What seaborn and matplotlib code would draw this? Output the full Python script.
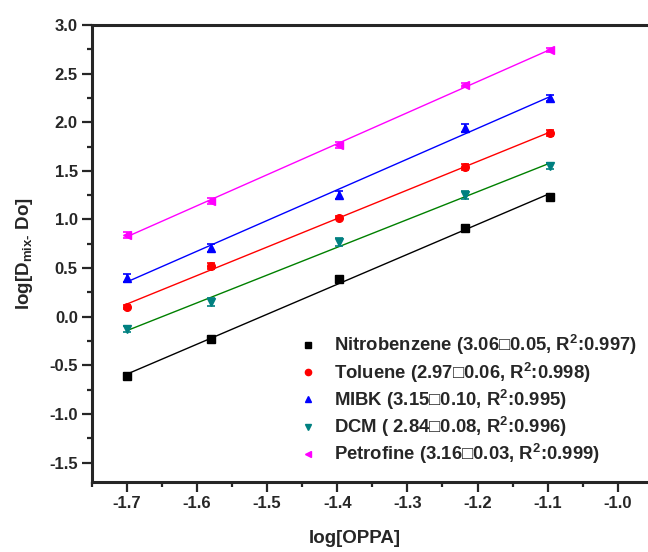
import numpy as np
import pandas as pd
import matplotlib
matplotlib.use("Agg")
import matplotlib.pyplot as plt
from matplotlib.lines import Line2D
from matplotlib.ticker import MultipleLocator
import seaborn as sns

# ---- data ----
log_oppa = [-1.699, -1.58, -1.398, -1.218, -1.097]
nitrobenzene = [-0.61, -0.23, 0.39, 0.91, 1.23]
toluene = [0.10, 0.52, 1.02, 1.54, 1.89]
mibk = [0.40, 0.71, 1.25, 1.94, 2.25]
dcm = [-0.13, 0.15, 0.77, 1.25, 1.55]
petrofine = [0.84, 1.19, 1.77, 2.38, 2.74]
err_nitro = [0.03, 0.03, 0.03, 0.03, 0.03]
err_tol = [0.02, 0.03, 0.02, 0.03, 0.03]
err_mibk = [0.04, 0.04, 0.04, 0.04, 0.03]
err_dcm = [0.03, 0.04, 0.04, 0.04, 0.03]
err_petro = [0.03, 0.03, 0.03, 0.02, 0.02]
series_names = ["Nitrobenzene", "Toluene", "MIBK", "DCM", "Petrofine"]
legend_labels = [
    "Nitrobenzene (3.06\u25a10.05, R$^2$:0.997)",
    "Toluene (2.97\u25a10.06, R$^2$:0.998)",
    "MIBK (3.15\u25a10.10, R$^2$:0.995)",
    "DCM ( 2.84\u25a10.08, R$^2$:0.996)",
    "Petrofine (3.16\u25a10.03, R$^2$:0.999)",
]
x_ticks = [-1.7, -1.6, -1.5, -1.4, -1.3, -1.2, -1.1, -1.0]
y_ticks = [-1.5, -1.0, -0.5, 0.0, 0.5, 1.0, 1.5, 2.0, 2.5, 3.0]

values = [nitrobenzene, toluene, mibk, dcm, petrofine]
errors = [err_nitro, err_tol, err_mibk, err_dcm, err_petro]

marker_colors = ["#000000", "#ff0000", "#0000ff", "#008080", "#ff00ff"]
line_colors = ["#000000", "#ff0000", "#0000ff", "#008000", "#ff00ff"]
markers = ["s", "o", "^", "v", "<"]

sns.set_style("ticks")
plt.rcParams["font.family"] = ["Liberation Sans", "DejaVu Sans"]
plt.rcParams["font.weight"] = "bold"
plt.rcParams["mathtext.fontset"] = "custom"
plt.rcParams["mathtext.rm"] = "Liberation Sans:bold"
plt.rcParams["mathtext.it"] = "Liberation Sans:bold"
plt.rcParams["mathtext.bf"] = "Liberation Sans:bold"
plt.rcParams["mathtext.default"] = "rm"

W, H = 648, 552
fig = plt.figure(figsize=(W / 100, H / 100), dpi=100)
left_px, right_px, top_px, bot_px = 91.7, 648, 25, 482
ax = fig.add_axes([left_px / W, 1 - bot_px / H, (right_px - left_px) / W, (bot_px - top_px) / H])

df = pd.DataFrame({"x": log_oppa})
for name, vals in zip(series_names, values):
    df[name] = vals

for name, vals, err, mc, lc, mk in zip(series_names, values, errors, marker_colors, line_colors, markers):
    sns.regplot(data=df, x="x", y=name, scatter=False, ci=None, ax=ax,
                color=lc, line_kws={"lw": 1.0}, truncate=True)
    ax.errorbar(log_oppa, vals, yerr=err, fmt=mk, color=mc, ms=5.5, capsize=3,
                elinewidth=1.2, capthick=1.2, zorder=3)

ax.set_xlim(-1.75, -0.957)
ax.set_ylim(-1.7, 3.0)
ax.set_xticks(x_ticks)
ax.set_yticks(y_ticks)
ax.set_xticklabels([f"{t:.1f}" for t in x_ticks])
ax.set_yticklabels([f"{t:.1f}" for t in y_ticks])
ax.xaxis.set_minor_locator(MultipleLocator(0.05))
ax.yaxis.set_minor_locator(MultipleLocator(0.25))
ax.tick_params(which="major", direction="out", length=7, width=1.6, labelsize=12, pad=3)
ax.tick_params(which="minor", direction="out", length=3.5, width=1.6)
ax.tick_params(top=False, right=False, which="both")
for lab in ax.get_xticklabels() + ax.get_yticklabels():
    lab.set_fontweight("bold")

for s in ["left", "bottom", "top"]:
    ax.spines[s].set_linewidth(2.2)
ax.spines["right"].set_visible(False)
ax.grid(False)

ax.set_xlabel("log[OPPA]", fontsize=13.5, fontweight="bold")
ax.set_ylabel("log[D$_{\\text{mix-}}$ Do]", fontsize=13.5, fontweight="bold")
ax.xaxis.set_label_coords((355 - left_px) / (right_px - left_px), (bot_px - 530) / (bot_px - top_px))
ax.yaxis.set_label_coords((35 - left_px) / (right_px - left_px), 0.5)

handles = [Line2D([], [], linestyle="none", marker=mk, color=mc, ms=4.5)
           for mk, mc in zip(markers, marker_colors)]
leg = ax.legend(handles, legend_labels, loc="upper left",
                bbox_to_anchor=(291 / W, 1 - 324 / H), bbox_transform=fig.transFigure,
                frameon=False, borderpad=0, handlelength=0.8, handletextpad=1.05,
                labelspacing=0.17, prop={"size": 13.3, "weight": "bold"})

fig.savefig("out.png", dpi=100)
